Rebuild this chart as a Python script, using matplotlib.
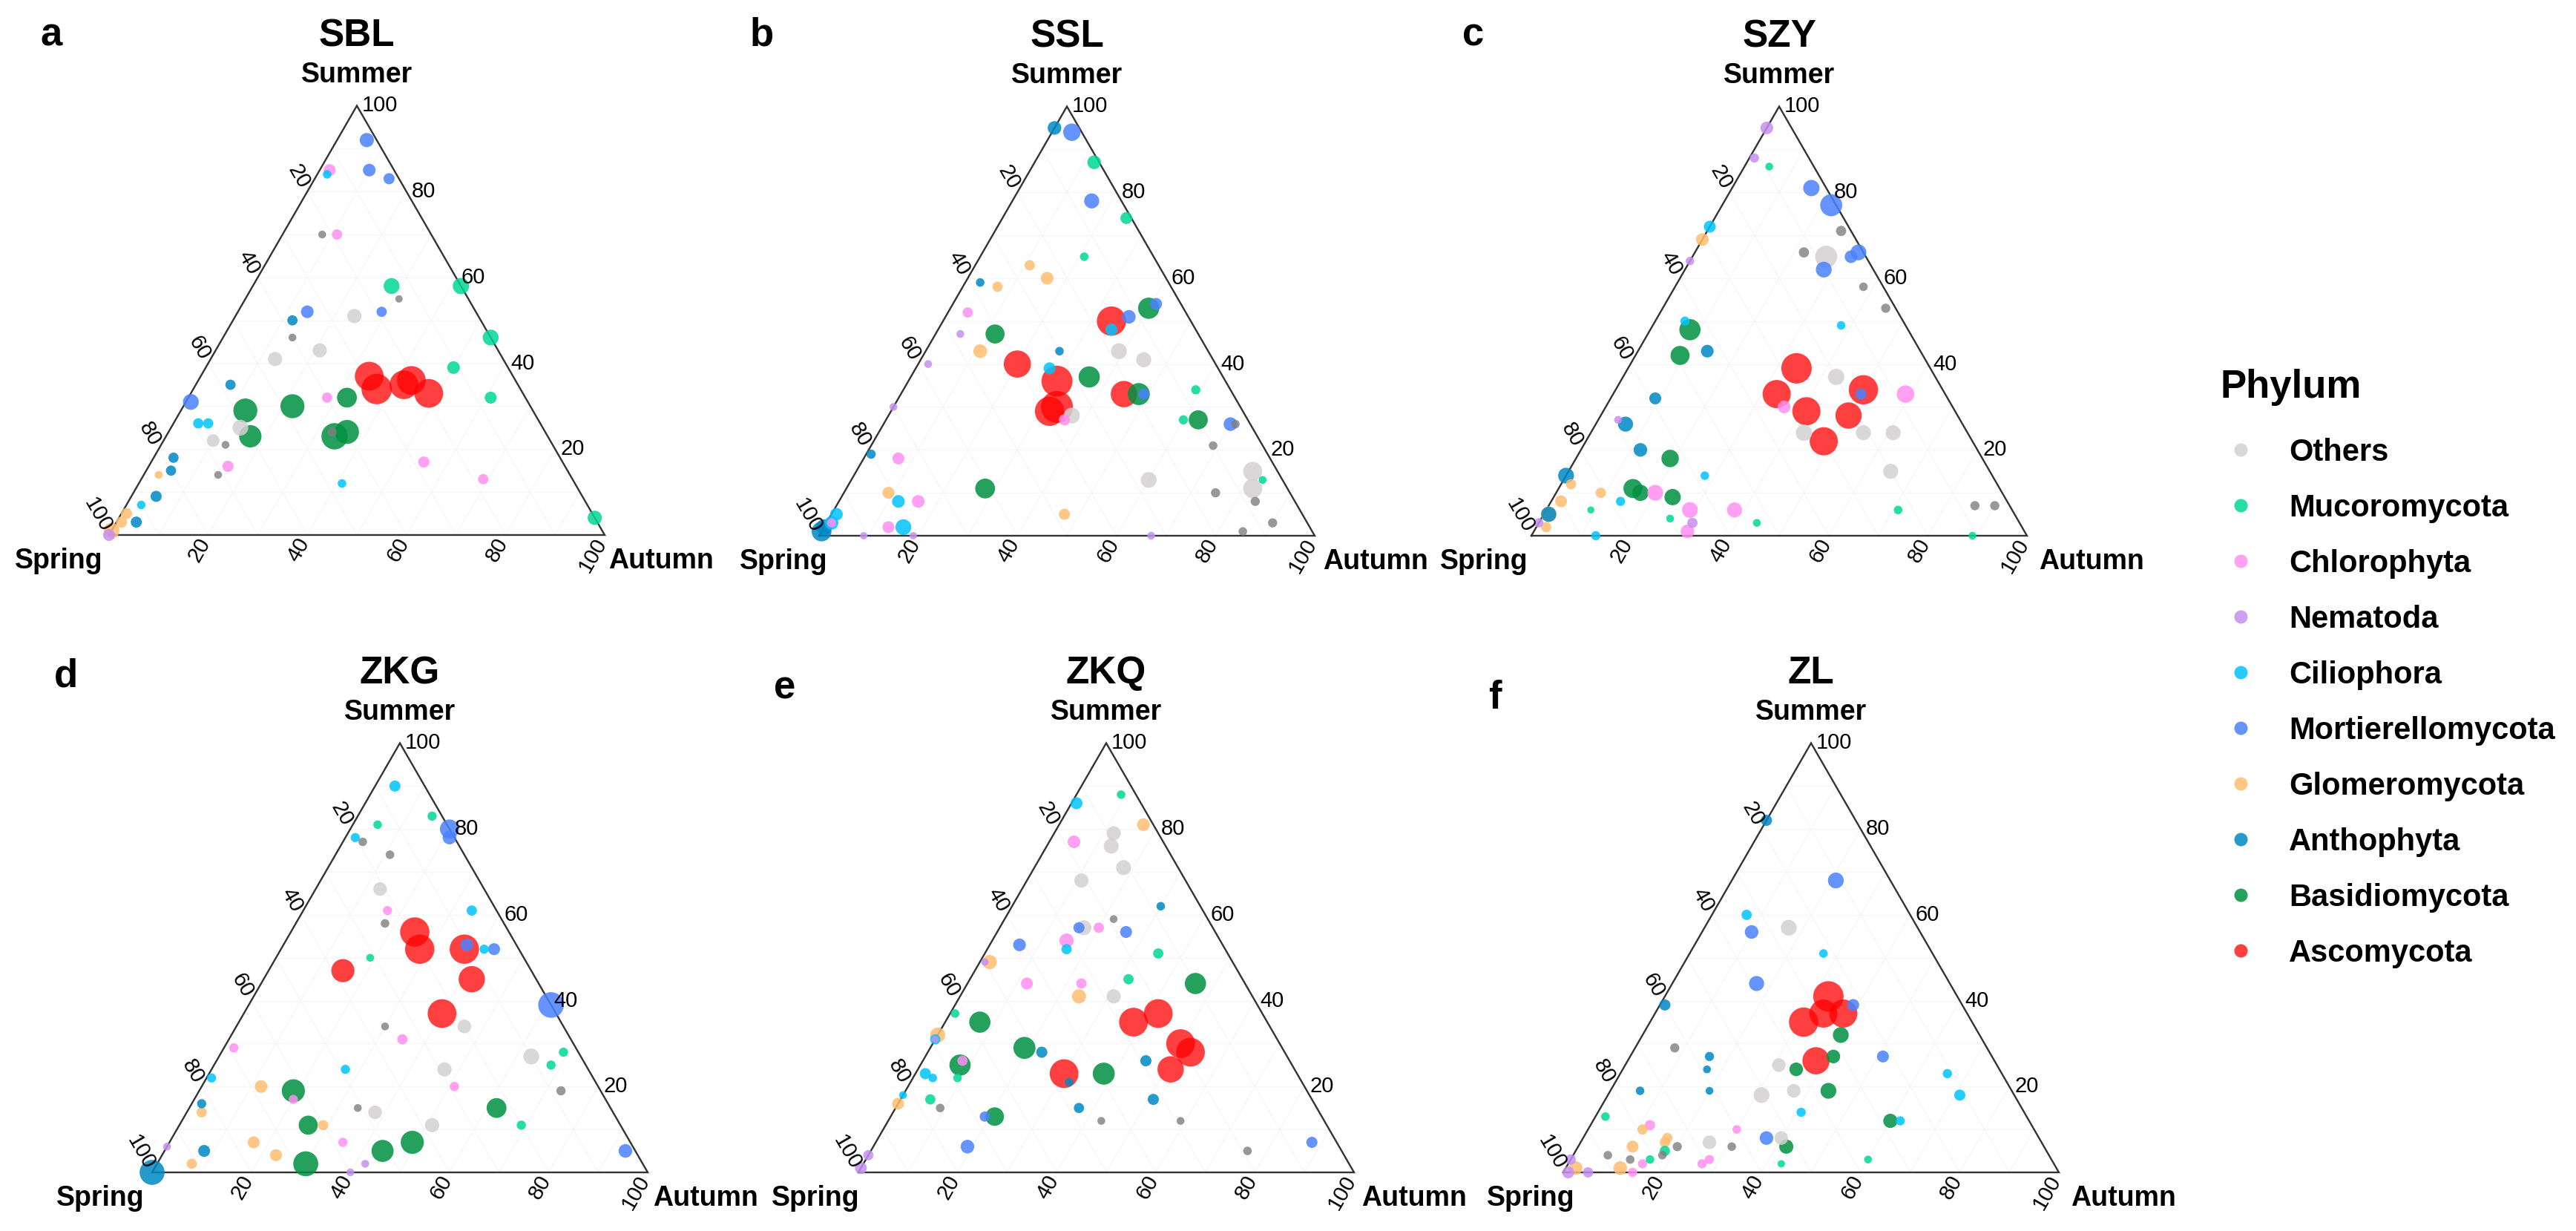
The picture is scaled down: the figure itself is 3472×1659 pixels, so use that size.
import numpy as np
import matplotlib
matplotlib.use("Agg")
import matplotlib.pyplot as plt

plt.rcParams['font.family'] = ['Liberation Sans', 'DejaVu Sans']

# legend order of the phyla and their short codes used in the tables below
phyla = ['Others', 'Mucoromycota', 'Chlorophyta', 'Nematoda', 'Ciliophora',
         'Mortierellomycota', 'Glomeromycota', 'Anthophyta', 'Basidiomycota', 'Ascomycota']
codes = ['Oth', 'Muc', 'Chl', 'Nem', 'Cil', 'Mor', 'Glo', 'Ant', 'Bas', 'Asc']
colors = {'Oth': '#d3d0d0', 'Muc': '#00d896', 'Chl': '#ff8ff0', 'Nem': '#c68ff0',
          'Cil': '#00c4ff', 'Mor': '#4a82ff', 'Glo': '#ffbd70', 'Ant': '#0088c4',
          'Bas': '#009040', 'Asc': '#ff0000', 'NA': '#7f7f7f'}
alphas = {'Asc': 0.75, 'NA': 0.8}

# rows: (phylum, spring %, summer %, autumn %, relative abundance %)
sbl = [
    ('Mor', 2, 92, 6, 0.17), ('Mor', 5, 85, 10, 0.12), ('Mor', 2, 83, 15, 0.08),
    ('Chl', 13, 85, 2, 0.1), ('Cil', 14, 84, 2, 0.03), ('NA', 22, 70, 8, 0.02),
    ('Chl', 19, 70, 11, 0.06), ('Muc', 14, 58, 28, 0.23), ('Muc', 0, 58, 42, 0.25),
    ('NA', 14, 55, 31, 0.015), ('Mor', 34, 52, 14, 0.12), ('Ant', 38, 50, 12, 0.06),
    ('Mor', 19, 52, 29, 0.06), ('Oth', 25, 51, 24, 0.17), ('NA', 40, 46, 14, 0.02),
    ('Oth', 36, 43, 21, 0.17), ('Oth', 46, 41, 13, 0.17), ('Muc', 0, 46, 54, 0.23),
    ('Muc', 11, 39, 50, 0.12), ('Muc', 7, 32, 61, 0.1), ('Ant', 58, 35, 7, 0.06),
    ('Mor', 68, 31, 1, 0.23), ('Chl', 40, 32, 28, 0.06), ('Bas', 36, 32, 32, 0.42),
    ('Bas', 58, 29, 13, 0.68), ('Bas', 48, 30, 22, 0.68), ('Bas', 60, 23, 17, 0.57),
    ('Bas', 43, 23, 34, 0.85), ('Bas', 40, 24, 36, 0.68), ('NA', 43, 24, 33, 0.04),
    ('Oth', 61, 25, 14, 0.23), ('Oth', 68, 22, 10, 0.12), ('NA', 66, 21, 13, 0.02),
    ('Cil', 69, 26, 5, 0.06), ('Cil', 67, 26, 7, 0.06), ('Chl', 28, 17, 55, 0.08),
    ('Chl', 18, 13, 69, 0.06), ('Cil', 47, 12, 41, 0.03), ('Chl', 68, 16, 16, 0.08),
    ('NA', 71, 14, 15, 0.02), ('Ant', 78, 18, 4, 0.06), ('Ant', 80, 15, 5, 0.06),
    ('Glo', 83, 14, 3, 0.02), ('Ant', 86, 9, 5, 0.08), ('Cil', 90, 7, 3, 0.03),
    ('Glo', 94, 5, 1, 0.08), ('Glo', 96, 3, 1, 0.08), ('Ant', 93, 3, 4, 0.08),
    ('Glo', 99, 1, 0, 0.23), ('Nem', 100, 0, 0, 0.1), ('Muc', 0, 4, 96, 0.17),
    ('Asc', 29, 37, 34, 1.05), ('Asc', 29, 34, 37, 1.2), ('Asc', 23, 35, 42, 1.05),
    ('Asc', 21, 36, 43, 1.05), ('Asc', 19, 33, 48, 1.05),
]

ssl = [
    ('Ant', 5, 95, 0, 0.15), ('Mor', 2, 94, 4, 0.3), ('Muc', 1, 87, 12, 0.15),
    ('Mor', 6, 78, 16, 0.2), ('Muc', 1, 74, 25, 0.1), ('Muc', 14, 65, 21, 0.03),
    ('Glo', 26, 63, 11, 0.06), ('Glo', 24, 60, 16, 0.12), ('Ant', 38, 59, 3, 0.03),
    ('Glo', 35, 58, 7, 0.06), ('Chl', 44, 52, 4, 0.06), ('Nem', 48, 47, 5, 0.02),
    ('Bas', 41, 47, 12, 0.38), ('Glo', 46, 43, 11, 0.15), ('Nem', 58, 40, 2, 0.02),
    ('Asc', 16, 50, 34, 1.1), ('Mor', 12, 51, 37, 0.15), ('Cil', 17, 48, 35, 0.1),
    ('Bas', 7, 53, 40, 0.5), ('Mor', 5, 54, 41, 0.1), ('Ant', 30, 43, 27, 0.03),
    ('Oth', 18, 43, 39, 0.23), ('Oth', 14, 41, 45, 0.2), ('Asc', 40, 40, 20, 0.92),
    ('Cil', 34, 39, 27, 0.1), ('Bas', 27, 37, 36, 0.5), ('Asc', 34, 36, 30, 1.25),
    ('Asc', 22, 33, 45, 0.85), ('Bas', 19, 33, 48, 0.55), ('Mor', 18, 33, 49, 0.08),
    ('Asc', 37, 30, 33, 1.35), ('Asc', 39, 29, 32, 1.1), ('Oth', 35, 28, 37, 0.23),
    ('Chl', 37, 27, 36, 0.08), ('Muc', 7, 34, 59, 0.04), ('Muc', 13, 27, 60, 0.04),
    ('Bas', 10, 27, 63, 0.38), ('Mor', 4, 26, 70, 0.15), ('NA', 10, 21, 69, 0.03),
    ('Oth', 27, 13, 60, 0.23), ('NA', 15, 10, 75, 0.04), ('Glo', 48, 5, 47, 0.08),
    ('Nem', 33, 0, 67, 0.02), ('Bas', 61, 11, 28, 0.42), ('Nem', 70, 30, 0, 0.02),
    ('Ant', 80, 19, 1, 0.04), ('Chl', 75, 18, 7, 0.1), ('Glo', 81, 10, 9, 0.1),
    ('Cil', 80, 8, 12, 0.12), ('Chl', 76, 8, 16, 0.12), ('Chl', 85, 2, 13, 0.1),
    ('Cil', 82, 2, 16, 0.23), ('Nem', 91, 0, 9, 0.015), ('Nem', 81, 0, 19, 0.015),
    ('Ant', 99, 1, 0, 0.42), ('Cil', 94, 5, 1, 0.12), ('Cil', 96, 3, 1, 0.15),
    ('Chl', 96, 3, 1, 0.04), ('Ant', 98, 2, 0, 0.23), ('NA', 3, 26, 71, 0.03),
    ('Oth', 5, 15, 80, 0.38), ('Oth', 7, 11, 82, 0.38), ('Muc', 4, 13, 83, 0.02),
    ('NA', 8, 8, 84, 0.04), ('NA', 7, 3, 90, 0.04), ('NA', 14, 1, 85, 0.03),
]

szy = [
    ('Nem', 5, 95, 0, 0.12), ('Nem', 11, 88, 1, 0.04), ('Muc', 9, 86, 5, 0.02),
    ('Mor', 3, 81, 16, 0.25), ('Mor', 1, 77, 22, 0.55), ('NA', 2, 71, 27, 0.06),
    ('NA', 12, 66, 22, 0.06), ('Oth', 8, 65, 27, 0.55), ('Mor', 10, 62, 28, 0.23),
    ('Mor', 3, 65, 32, 0.12), ('Mor', 1, 66, 33, 0.23), ('NA', 4, 58, 38, 0.03),
    ('NA', 2, 53, 45, 0.04), ('Cil', 28, 72, 0, 0.1), ('Glo', 31, 69, 0, 0.12),
    ('Nem', 36, 64, 0, 0.03), ('Cil', 44, 50, 6, 0.04), ('Bas', 44, 48, 8, 0.5),
    ('Ant', 43, 43, 14, 0.12), ('Bas', 49, 42, 9, 0.38), ('Ant', 59, 32, 9, 0.1),
    ('Nem', 69, 27, 4, 0.02), ('Ant', 68, 26, 6, 0.2), ('Ant', 68, 20, 12, 0.15),
    ('Bas', 63, 18, 19, 0.3), ('Cil', 58, 14, 28, 0.03), ('Ant', 86, 14, 0, 0.23),
    ('Glo', 86, 12, 2, 0.06), ('Glo', 81, 10, 9, 0.06), ('Glo', 90, 8, 2, 0.1),
    ('Bas', 74, 11, 15, 0.38), ('Bas', 73, 10, 17, 0.25), ('Chl', 70, 10, 20, 0.23),
    ('Bas', 67, 9, 24, 0.25), ('Cil', 78, 8, 14, 0.04), ('Muc', 85, 6, 9, 0.012),
    ('Muc', 70, 4, 26, 0.02), ('Chl', 65, 6, 29, 0.23), ('Nem', 66, 3, 31, 0.06),
    ('Chl', 68, 1, 31, 0.15), ('Chl', 56, 6, 38, 0.2), ('Muc', 53, 3, 44, 0.02),
    ('Cil', 87, 0, 13, 0.04), ('Ant', 94, 5, 1, 0.2), ('Glo', 94, 5, 1, 0.23),
    ('Nem', 97, 3, 0, 0.04), ('Glo', 96, 2, 2, 0.06), ('Chl', 34, 30, 36, 0.12),
    ('Oth', 33, 24, 43, 0.25), ('Oth', 20, 37, 43, 0.25), ('Cil', 13, 49, 38, 0.03),
    ('Asc', 27, 39, 34, 1.2), ('Asc', 34, 33, 33, 1.0), ('Asc', 30, 29, 41, 1.0),
    ('Asc', 30, 22, 48, 1.0), ('Asc', 16, 34, 50, 1.1), ('Asc', 22, 28, 50, 0.85),
    ('Mor', 17, 33, 50, 0.08), ('Chl', 8, 33, 59, 0.3), ('Oth', 21, 24, 55, 0.2),
    ('Oth', 15, 24, 61, 0.2), ('Oth', 20, 15, 65, 0.2), ('Muc', 23, 6, 71, 0.03),
    ('NA', 7, 7, 86, 0.04), ('NA', 3, 7, 90, 0.04), ('Muc', 11, 0, 89, 0.02),
]

zkg = [
    ('Cil', 6, 90, 4, 0.08), ('Muc', 2, 83, 15, 0.04), ('Muc', 14, 81, 5, 0.03),
    ('Mor', 0, 80, 20, 0.38), ('Mor', 1, 78, 21, 0.15), ('Cil', 20, 78, 2, 0.04),
    ('NA', 19, 77, 4, 0.03), ('NA', 15, 74, 11, 0.03), ('Oth', 21, 66, 13, 0.15),
    ('Chl', 22, 61, 17, 0.04), ('NA', 24, 58, 18, 0.03), ('Cil', 5, 61, 34, 0.06),
    ('Asc', 19, 56, 25, 1.1), ('Asc', 20, 52, 28, 1.1), ('Asc', 11, 52, 37, 1.1),
    ('Mor', 10, 53, 37, 0.12), ('Cil', 7, 52, 41, 0.04), ('Mor', 5, 52, 43, 0.1),
    ('Muc', 31, 50, 19, 0.02), ('Asc', 38, 47, 15, 0.62), ('Asc', 13, 45, 42, 0.85),
    ('Asc', 23, 37, 40, 1.05), ('Mor', 0, 39, 61, 0.8), ('NA', 36, 34, 30, 0.02),
    ('Oth', 20, 34, 46, 0.15), ('Chl', 34, 31, 35, 0.06), ('Chl', 69, 29, 2, 0.04),
    ('Oth', 10, 27, 63, 0.23), ('Muc', 3, 28, 69, 0.04), ('Muc', 7, 25, 68, 0.04),
    ('Cil', 49, 24, 27, 0.04), ('Oth', 29, 24, 47, 0.17), ('Cil', 77, 22, 1, 0.04),
    ('Chl', 29, 20, 51, 0.04), ('NA', 8, 19, 73, 0.04), ('Glo', 68, 20, 12, 0.12),
    ('Bas', 62, 19, 19, 0.62), ('Chl', 63, 17, 20, 0.04), ('Ant', 82, 16, 2, 0.04),
    ('Glo', 83, 14, 3, 0.06), ('Bas', 23, 15, 62, 0.42), ('NA', 51, 15, 34, 0.02),
    ('Oth', 48, 14, 38, 0.15), ('Bas', 63, 11, 26, 0.38), ('Glo', 60, 11, 29, 0.06),
    ('Oth', 38, 11, 51, 0.17), ('Muc', 20, 11, 69, 0.04), ('Glo', 76, 7, 17, 0.1),
    ('Chl', 58, 7, 35, 0.04), ('Bas', 44, 7, 49, 0.62), ('Bas', 51, 5, 44, 0.55),
    ('Glo', 73, 4, 23, 0.1), ('Ant', 87, 5, 8, 0.1), ('Glo', 91, 2, 7, 0.06),
    ('Nem', 94, 6, 0, 0.02), ('Nem', 56, 2, 42, 0.02), ('Nem', 60, 0, 40, 0.02),
    ('Bas', 68, 2, 30, 0.75), ('Ant', 100, 0, 0, 0.75), ('Mor', 2, 5, 93, 0.15),
]

zkq = [
    ('Muc', 3, 88, 9, 0.03), ('Cil', 13, 86, 1, 0.1), ('Glo', 2, 81, 17, 0.12),
    ('Oth', 9, 79, 12, 0.17), ('Oth', 11, 76, 13, 0.2), ('Chl', 18, 77, 5, 0.12),
    ('Oth', 11, 71, 18, 0.2), ('Oth', 21, 68, 11, 0.17), ('Ant', 8, 62, 30, 0.03),
    ('NA', 19, 59, 22, 0.02), ('Oth', 26, 57, 17, 0.2), ('Mor', 27, 57, 16, 0.08),
    ('Chl', 23, 57, 20, 0.06), ('Mor', 18, 56, 26, 0.1), ('Chl', 31, 54, 15, 0.17),
    ('Cil', 32, 52, 16, 0.06), ('Mor', 41, 53, 6, 0.12), ('Muc', 14, 51, 35, 0.06),
    ('Glo', 49, 49, 2, 0.17), ('Nem', 50, 49, 1, 0.015), ('Chl', 44, 44, 12, 0.1),
    ('Chl', 33, 44, 23, 0.06), ('Muc', 23, 45, 32, 0.06), ('Glo', 35, 41, 24, 0.17),
    ('Oth', 28, 41, 31, 0.17), ('Bas', 10, 44, 46, 0.5), ('Asc', 21, 37, 42, 1.05),
    ('Asc', 27, 35, 38, 1.05), ('Asc', 20, 30, 50, 1.05), ('Asc', 19, 28, 53, 1.05),
    ('Asc', 25, 24, 51, 0.85), ('Asc', 47, 23, 30, 1.05), ('Ant', 47, 21, 32, 0.03),
    ('Bas', 39, 23, 38, 0.55), ('Muc', 62, 37, 1, 0.03), ('Bas', 58, 35, 7, 0.5),
    ('Glo', 68, 32, 0, 0.2), ('Cil', 69, 31, 0, 0.06), ('Nem', 69, 31, 0, 0.012),
    ('Bas', 52, 29, 19, 0.55), ('Ant', 49, 28, 23, 0.08), ('Ant', 29, 26, 45, 0.08),
    ('Bas', 67, 25, 8, 0.5), ('Chl', 66, 26, 8, 0.06), ('Cil', 75, 23, 2, 0.08),
    ('Cil', 74, 22, 4, 0.03), ('Muc', 69, 22, 9, 0.03), ('Cil', 82, 18, 0, 0.02),
    ('Glo', 84, 16, 0, 0.1), ('Muc', 77, 17, 6, 0.06), ('NA', 76, 15, 9, 0.03),
    ('Mor', 68, 13, 19, 0.06), ('Bas', 66, 13, 21, 0.35), ('Ant', 48, 15, 37, 0.06),
    ('Ant', 32, 17, 51, 0.08), ('NA', 45, 12, 43, 0.02), ('NA', 29, 12, 59, 0.02),
    ('Mor', 75, 6, 19, 0.15), ('NA', 19, 5, 76, 0.03), ('Nem', 99, 1, 0, 0.1),
    ('Nem', 96, 4, 0, 0.06), ('Mor', 5, 7, 88, 0.08),
]

zl = [
    ('Ant', 18, 82, 0, 0.08), ('Mor', 11, 68, 21, 0.23), ('Cil', 33, 60, 7, 0.06),
    ('Mor', 34, 56, 10, 0.15), ('Oth', 26, 57, 17, 0.23), ('Cil', 22, 51, 27, 0.03),
    ('Mor', 39, 44, 17, 0.2), ('Asc', 26, 41, 33, 1.2), ('Asc', 34, 35, 31, 1.1),
    ('Asc', 29, 37, 34, 1.0), ('Asc', 25, 37, 38, 1.0), ('Asc', 36, 26, 38, 0.92),
    ('Mor', 22, 39, 39, 0.1), ('Bas', 28, 32, 40, 0.23), ('Bas', 32, 27, 41, 0.15),
    ('Bas', 41, 24, 35, 0.15), ('Oth', 44, 25, 31, 0.15), ('Oth', 44, 19, 37, 0.15),
    ('Oth', 51, 18, 31, 0.23), ('Bas', 37, 19, 44, 0.23), ('Mor', 22, 27, 51, 0.1),
    ('Cil', 11, 23, 66, 0.04), ('Cil', 11, 18, 71, 0.08), ('Bas', 28, 12, 60, 0.17),
    ('Cil', 26, 12, 62, 0.04), ('Cil', 45, 14, 41, 0.04), ('Muc', 37, 3, 60, 0.02),
    ('Ant', 57, 27, 16, 0.04), ('Ant', 59, 24, 17, 0.02), ('Ant', 61, 19, 20, 0.02),
    ('Mor', 55, 8, 37, 0.15), ('Oth', 52, 8, 40, 0.15), ('Bas', 52, 6, 42, 0.17),
    ('Muc', 55, 2, 43, 0.015), ('Oth', 67, 7, 26, 0.15), ('NA', 63, 6, 31, 0.03),
    ('Chl', 60, 10, 30, 0.03), ('Chl', 69, 3, 28, 0.04), ('Chl', 71, 2, 27, 0.04),
    ('Ant', 60, 39, 1, 0.08), ('NA', 63, 29, 8, 0.04), ('Ant', 75, 19, 6, 0.03),
    ('Muc', 85, 13, 2, 0.03), ('Chl', 77, 11, 12, 0.06), ('Glo', 79, 10, 11, 0.06),
    ('Glo', 75, 8, 17, 0.06), ('Glo', 76, 7, 17, 0.06), ('Glo', 83, 6, 11, 0.1),
    ('NA', 74, 6, 20, 0.04), ('Muc', 77, 5, 18, 0.06), ('NA', 78, 4, 18, 0.03),
    ('Muc', 81, 3, 16, 0.03), ('NA', 85, 3, 12, 0.03), ('NA', 89, 4, 7, 0.03),
    ('Chl', 83, 2, 15, 0.04), ('Chl', 86, 0, 14, 0.04), ('Glo', 88, 1, 11, 0.15),
    ('Glo', 97, 1, 2, 0.15), ('Nem', 95, 0, 5, 0.06), ('Nem', 99, 0, 1, 0.1),
    ('Nem', 97, 3, 0, 0.06),
]

panel_names = ['SBL', 'SSL', 'SZY', 'ZKG', 'ZKQ', 'ZL']
panel_letters = ['a', 'b', 'c', 'd', 'e', 'f']
panel_data = [sbl, ssl, szy, zkg, zkq, zl]
tick_values = [20, 40, 60, 80, 100]

# ---- layout (pixels of the 3472 x 1659 output) ----
DPI = 100
W, H = 3472, 1659
SIDE = 668
H3 = np.sqrt(3) / 2
origins = [(147, 721), (1104, 722), (2064, 722), (205, 1580), (1157, 1580), (2107, 1580)]
letter_pos = [(55, 62), (1011, 62), (1971, 62), (73, 925), (1043, 942), (2006, 955)]
spring_dx = [-8, 12, -4, -10, 2, 16]
autumn_dx = [5, 11, 16, 7, 10, 16]


def tern_xy(sp, su, au):
    tot = sp + su + au
    return (au + su / 2) / tot, su / tot * H3


def diam_px(ab):
    return 6 + 35 * np.sqrt(np.asarray(ab) / 1.2)


fig = plt.figure(figsize=(W / DPI, H / DPI), dpi=DPI)
lay = fig.add_axes([0, 0, 1, 1])
lay.set_xlim(0, W)
lay.set_ylim(H, 0)
lay.axis('off')

for k, (name, letter, rows) in enumerate(zip(panel_names, panel_letters, panel_data)):
    lx, by = origins[k]
    ax = fig.add_axes([(lx - 0.3 * SIDE) / W, (H - by - 0.15 * SIDE) / H,
                       1.6 * SIDE / W, (H3 + 0.4) * SIDE / H])
    ax.set_xlim(-0.3, 1.3)
    ax.set_ylim(-0.15, H3 + 0.25)
    ax.axis('off')

    # very faint grid
    for f in np.arange(0.1, 0.95, 0.1):
        ax.plot([f / 2, 1 - f / 2], [f * H3, f * H3], color='#f6f6f6', lw=0.9, zorder=0)
        ax.plot([f, f + (1 - f) / 2], [0, (1 - f) * H3], color='#f6f6f6', lw=0.9, zorder=0)
        ax.plot([1 - f, (1 - f) / 2], [0, (1 - f) * H3], color='#f6f6f6', lw=0.9, zorder=0)

    ax.plot([0, 1, 0.5, 0], [0, 0, H3, 0], color='#333333', lw=1.7, zorder=1,
            solid_joinstyle='miter')

    rows = sorted(rows, key=lambda r: -r[4])
    ph = [r[0] for r in rows]
    sp = np.array([r[1] for r in rows], float)
    su = np.array([r[2] for r in rows], float)
    au = np.array([r[3] for r in rows], float)
    ab = np.array([r[4] for r in rows], float)
    x, y = tern_xy(sp, su, au)
    rgba = [matplotlib.colors.to_rgba(colors[p], alphas.get(p, 0.85)) for p in ph]
    ax.scatter(x, y, s=(diam_px(ab) * 72 / DPI) ** 2, c=rgba, linewidths=0, zorder=3,
               clip_on=False)

    d = 7 / SIDE
    for t in tick_values:
        f = t / 100
        ax.text(1 - f / 2 + d, f * H3, str(t), ha='left', va='center', fontsize=21)
        ax.text((1 - f) / 2 - 0.5 * d, (1 - f) * H3 + H3 * d, str(t), ha='right',
                va='center', rotation=-60, rotation_mode='anchor', fontsize=21)
        ax.text(f - 0.5 * d, -H3 * d, str(t), ha='right', va='center', rotation=60,
                rotation_mode='anchor', fontsize=21)

    ax.text(0.5, H3 + 80 / SIDE, name, ha='center', va='baseline', fontsize=37,
            fontweight='bold')
    ax.text(0.5, H3 + 31 / SIDE, 'Summer', ha='center', va='baseline', fontsize=27,
            fontweight='bold')
    ax.text(spring_dx[k] / SIDE, -45 / SIDE, 'Spring', ha='right', va='baseline',
            fontsize=27, fontweight='bold')
    ax.text(1 + autumn_dx[k] / SIDE, -45 / SIDE, 'Autumn', ha='left', va='baseline',
            fontsize=27, fontweight='bold')

    tx, ty = letter_pos[k]
    lay.text(tx, ty, letter, ha='left', va='baseline', fontsize=38, fontweight='bold')

# legend
lay.text(2993, 536, 'Phylum', ha='left', va='baseline', fontsize=38, fontweight='bold')
for i, (label, code) in enumerate(zip(phyla, codes)):
    yy = 606 + 75 * i
    lay.scatter([3020], [yy], s=(18 * 72 / DPI) ** 2, linewidths=0,
                color=matplotlib.colors.to_rgba(colors[code], alphas.get(code, 0.85)))
    lay.text(3085, yy + 15, label, ha='left', va='baseline', fontsize=30, fontweight='bold')

fig.savefig('out.png', dpi=DPI)
